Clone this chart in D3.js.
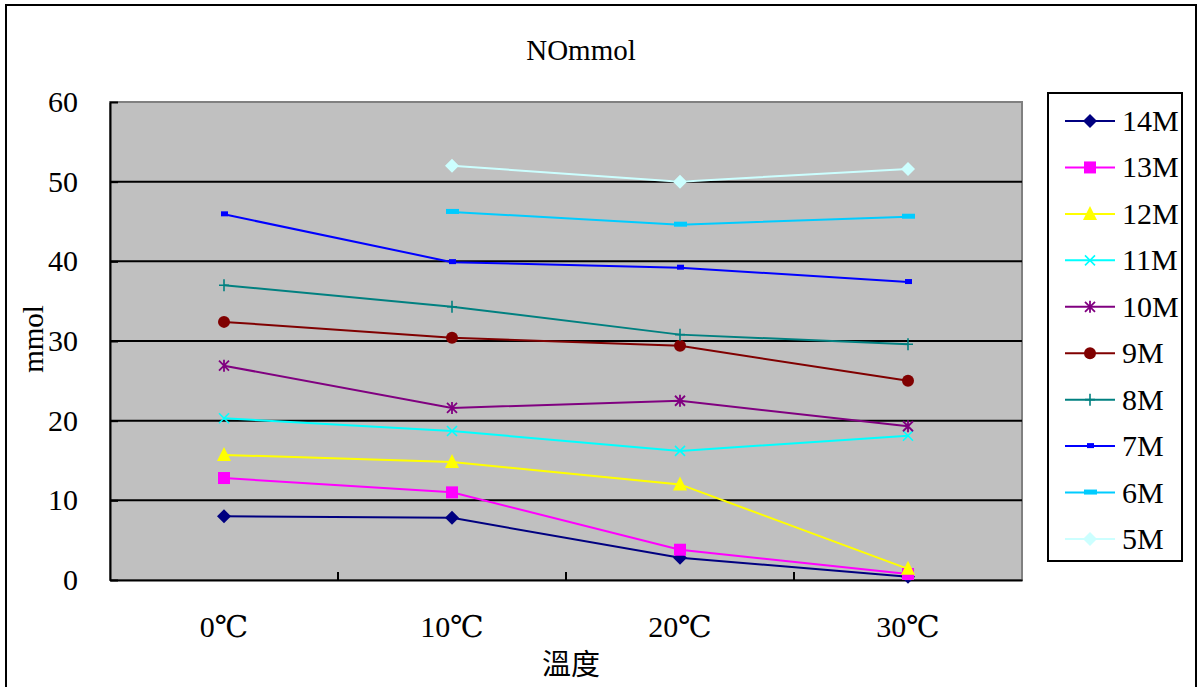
<!DOCTYPE html>
<html>
<head>
<meta charset="utf-8">
<script src="https://cdn.jsdelivr.net/npm/d3@7"></script>
<style>
  html, body { margin: 0; padding: 0; background: #fff; }
  svg { display: block; }
</style>
</head>
<body>
<script>
const W = 1198, H = 687;
const FONT = "'Liberation Serif', 'DejaVu Serif', 'Noto Sans CJK TC', serif";

// data ------------------------------------------------------------------
const categories = ["0℃", "10℃", "20℃", "30℃"];
const seriesNames = ["14M", "13M", "12M", "11M", "10M", "9M", "8M", "7M", "6M", "5M"];
const v14 = [8.0, 7.8, 2.8, 0.4];
const v13 = [12.8, 11.0, 3.8, 0.75];
const v12 = [15.7, 14.8, 12.0, 1.4];
const v11 = [20.3, 18.7, 16.2, 18.1];
const v10 = [26.9, 21.6, 22.5, 19.3];
const v9  = [32.4, 30.4, 29.4, 25.0];
const v8  = [37.0, 34.3, 30.8, 29.6];
const v7  = [45.9, 39.9, 39.2, 37.4];
const v6  = [null, 46.2, 44.6, 45.6];
const v5  = [null, 52.0, 50.0, 51.6];
const yTicks = [0, 10, 20, 30, 40, 50, 60];

const seriesValues = [v14, v13, v12, v11, v10, v9, v8, v7, v6, v5];
const colors = ["#000080", "#FF00FF", "#FFFF00", "#00FFFF", "#800080",
                "#800000", "#008080", "#0000FF", "#00CCFF", "#CCFFFF"];
const markers = ["diamond", "square", "triangle", "x", "star",
                 "circle", "plus", "dash", "longdash", "diamond"];

// layout ----------------------------------------------------------------
const plot = { left: 110, right: 1022, top: 102, bottom: 580 };

const svg = d3.select("body").append("svg")
  .attr("width", W).attr("height", H);

svg.append("rect")
  .attr("x", 6).attr("y", 5)
  .attr("width", 1190).attr("height", H + 10)
  .attr("fill", "#fff").attr("stroke", "#000").attr("stroke-width", 2);

const x = d3.scaleBand().domain(categories)
  .range([plot.left, plot.right]);
const y = d3.scaleLinear().domain([0, 60])
  .range([plot.bottom, plot.top]);

// plot background
svg.append("rect")
  .attr("x", plot.left).attr("y", plot.top)
  .attr("width", plot.right - plot.left).attr("height", plot.bottom - plot.top)
  .attr("fill", "#C0C0C0")
  .attr("stroke", "#808080").attr("stroke-width", 2);

// gridlines
svg.append("g").selectAll("line")
  .data(yTicks.filter(t => t > 0 && t < 60)).enter()
  .append("line")
  .attr("x1", plot.left).attr("x2", plot.right)
  .attr("y1", d => y(d)).attr("y2", d => y(d))
  .attr("stroke", "#000").attr("stroke-width", 2);

// y axis
const yAxis = svg.append("g")
  .attr("transform", `translate(${plot.left},0)`)
  .call(d3.axisLeft(y).tickValues(yTicks).tickSizeInner(-8).tickSizeOuter(0).tickPadding(32));
yAxis.attr("font-family", null).attr("font-size", null);
yAxis.select(".domain").attr("stroke", "#000").attr("stroke-width", 2);
yAxis.selectAll(".tick line").attr("stroke", "#000").attr("stroke-width", 2);
yAxis.selectAll("text")
  .style("font-family", FONT).style("font-size", "30px").attr("fill", "#000");

// x axis
const xAxis = svg.append("g")
  .attr("transform", `translate(0,${plot.bottom})`)
  .call(d3.axisBottom(x).tickSize(0).tickPadding(36));
xAxis.attr("font-family", null).attr("font-size", null);
xAxis.select(".domain").attr("stroke", "#000").attr("stroke-width", 2);
xAxis.selectAll("text")
  .style("font-family", FONT).style("font-size", "30px").attr("fill", "#000");

// category separators (ticks pointing up)
svg.append("g").selectAll("line")
  .data(categories.slice(1)).enter()
  .append("line")
  .attr("x1", d => x(d)).attr("x2", d => x(d))
  .attr("y1", plot.bottom).attr("y2", plot.bottom - 8)
  .attr("stroke", "#000").attr("stroke-width", 2);

// titles
svg.append("text")
  .attr("x", 581).attr("y", 60)
  .attr("text-anchor", "middle")
  .attr("font-family", FONT).attr("font-size", 29)
  .text("NOmmol");

svg.append("text")
  .attr("transform", "translate(43,339) rotate(-90)")
  .attr("text-anchor", "middle")
  .attr("font-family", FONT).attr("font-size", 29)
  .text("mmol");

svg.append("text")
  .attr("x", 571).attr("y", 675)
  .attr("text-anchor", "middle")
  .attr("font-family", FONT).attr("font-size", 29)
  .text("溫度");

// markers ---------------------------------------------------------------
function drawMarker(g, type, cx, cy, color) {
  switch (type) {
    case "diamond":
      g.append("path")
        .attr("d", `M${cx},${cy - 7}L${cx + 7},${cy}L${cx},${cy + 7}L${cx - 7},${cy}Z`)
        .attr("fill", color);
      break;
    case "square":
      g.append("rect").attr("x", cx - 6).attr("y", cy - 6)
        .attr("width", 12).attr("height", 12).attr("fill", color);
      break;
    case "triangle":
      g.append("path")
        .attr("d", `M${cx},${cy - 8}L${cx + 7},${cy + 6}L${cx - 7},${cy + 6}Z`)
        .attr("fill", color);
      break;
    case "x":
      g.append("path")
        .attr("d", `M${cx - 5},${cy - 5}L${cx + 5},${cy + 5}M${cx - 5},${cy + 5}L${cx + 5},${cy - 5}`)
        .attr("stroke", color).attr("stroke-width", 1.6).attr("fill", "none");
      break;
    case "star":
      g.append("path")
        .attr("d", `M${cx - 5},${cy - 5}L${cx + 5},${cy + 5}M${cx - 5},${cy + 5}L${cx + 5},${cy - 5}M${cx},${cy - 6}L${cx},${cy + 6}`)
        .attr("stroke", color).attr("stroke-width", 1.8).attr("fill", "none");
      break;
    case "circle":
      g.append("circle").attr("cx", cx).attr("cy", cy).attr("r", 6)
        .attr("fill", color);
      break;
    case "plus":
      g.append("path")
        .attr("d", `M${cx - 5},${cy}L${cx + 5},${cy}M${cx},${cy - 6}L${cx},${cy + 6}`)
        .attr("stroke", color).attr("stroke-width", 1.6).attr("fill", "none");
      break;
    case "dash":
      g.append("rect").attr("x", cx - 3).attr("y", cy - 3)
        .attr("width", 7).attr("height", 5).attr("fill", color);
      break;
    case "longdash":
      g.append("rect").attr("x", cx - 6).attr("y", cy - 3)
        .attr("width", 13).attr("height", 5).attr("fill", color);
      break;
  }
}

// series ----------------------------------------------------------------
const line = d3.line()
  .defined(d => d.v != null)
  .x(d => x(d.c) + x.bandwidth() / 2)
  .y(d => y(d.v));

const seriesG = svg.append("g");
seriesValues.forEach((vals, i) => {
  const pts = categories.map((c, j) => ({ c, v: vals[j] }));
  seriesG.append("path")
    .datum(pts)
    .attr("d", line)
    .attr("fill", "none")
    .attr("stroke", colors[i])
    .attr("stroke-width", 2);
});
seriesValues.forEach((vals, i) => {
  const g = seriesG.append("g");
  categories.forEach((c, j) => {
    if (vals[j] == null) return;
    drawMarker(g, markers[i], x(c) + x.bandwidth() / 2, y(vals[j]), colors[i]);
  });
});

// legend ----------------------------------------------------------------
const legend = svg.append("g");
legend.append("rect")
  .attr("x", 1048).attr("y", 93)
  .attr("width", 134).attr("height", 468)
  .attr("fill", "#fff").attr("stroke", "#000").attr("stroke-width", 2);

const ly = d3.scalePoint().domain(seriesNames).range([121, 539]);
seriesNames.forEach((name, i) => {
  const cy = ly(name);
  legend.append("line")
    .attr("x1", 1065).attr("x2", 1115)
    .attr("y1", cy).attr("y2", cy)
    .attr("stroke", colors[i]).attr("stroke-width", 2);
  drawMarker(legend, markers[i], 1090, cy, colors[i]);
  legend.append("text")
    .attr("x", 1122).attr("y", cy + 10)
    .attr("font-family", FONT).attr("font-size", 30)
    .text(name);
});
</script>
</body>
</html>
